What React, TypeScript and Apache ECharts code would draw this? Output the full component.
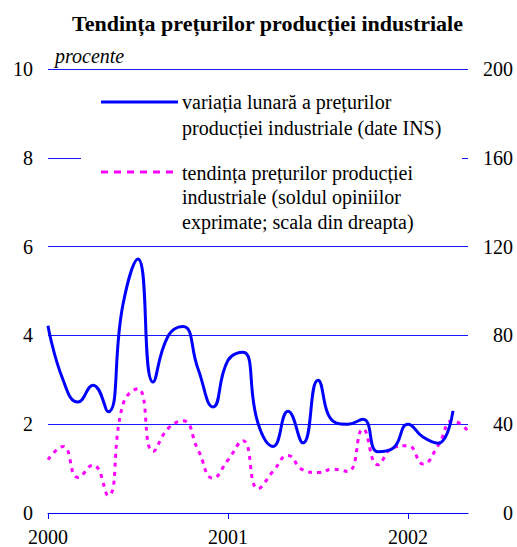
import React, { useEffect, useRef } from "react";
import * as echarts from "echarts";

const months: string[] = [
  "2000-01", "2000-02", "2000-03", "2000-04", "2000-05", "2000-06",
  "2000-07", "2000-08", "2000-09", "2000-10", "2000-11", "2000-12",
  "2001-01", "2001-02", "2001-03", "2001-04", "2001-05", "2001-06",
  "2001-07", "2001-08", "2001-09", "2001-10", "2001-11", "2001-12",
  "2002-01", "2002-02", "2002-03", "2002-04", "2002-05",
];

// variația lunară a prețurilor producției industriale (date INS), procente
const monthlyChange: number[] = [
  4.22, 3.0, 2.5, 2.88, 2.28, 4.7, 5.72, 2.95, 3.98, 4.2, 3.25, 2.39,
  3.44, 3.62, 2.02, 1.5, 2.29, 1.58, 2.99, 2.07, 2.0, 2.11, 1.38, 1.46,
  2.0, 1.71, 1.57, 2.3,
];

// tendința prețurilor producției industriale (soldul opiniilor exprimate)
const tendency: number[] = [
  24, 30, 16, 21.7, 7.9, 49, 56, 27.7, 38, 41.5, 28.5, 15.7,
  23.9, 32.6, 11, 18.7, 25.9, 19.4, 18.2, 19.7, 18.7, 37.8, 21.7, 29.5,
  30.3, 22.1, 30.3, 41.6, 37,
];

const title = "Tendința prețurilor producției industriale";
const unitLabel = "procente";
const legendBlue = ["variația lunară a prețurilor", "producției industriale (date INS)"];
const legendPink = [
  "tendința prețurilor producției",
  "industriale (soldul opiniilor",
  "exprimate; scala din dreapta)",
];

const FONT = "Liberation Serif";

export default function App() {
  const ref = useRef<HTMLDivElement>(null);
  useEffect(() => {
    if (!ref.current) return;
    const chart = echarts.init(ref.current, null, { renderer: "svg" });
    const legendText = (y: number, t: string) => ({
      type: "text",
      x: 182,
      y,
      z: 101,
      style: {
        text: t,
        fontFamily: FONT,
        fontSize: 20,
        fill: "#000",
        align: "left",
        verticalAlign: "middle",
      },
    });
    chart.setOption({
      animation: false,
      backgroundColor: "#fff",
      textStyle: { fontFamily: FONT },
      title: {
        text: title,
        left: 67,
        top: 7,
        textStyle: { fontFamily: FONT, fontSize: 22, fontWeight: "bold", color: "#000" },
      },
      grid: { left: 48, right: 49, top: 69, bottom: 32, containLabel: false },
      xAxis: {
        type: "category",
        data: months,
        boundaryGap: false,
        axisLine: { show: true, lineStyle: { color: "#0000ff", width: 1 } },
        axisTick: {
          show: true,
          length: 6,
          lineStyle: { color: "#0000ff" },
          interval: (index: number) => index % 12 === 0,
        },
        axisLabel: {
          interval: 0,
          margin: 14,
          fontSize: 20,
          fontFamily: FONT,
          color: "#000",
          formatter: (v: string) => (v.endsWith("-01") ? v.slice(0, 4) : ""),
        },
        splitLine: { show: false },
      },
      yAxis: [
        {
          type: "value",
          min: 0,
          max: 10,
          interval: 2,
          axisLine: { show: false },
          axisTick: { show: false },
          axisLabel: { margin: 15, fontSize: 20, fontFamily: FONT, color: "#000" },
          splitLine: { show: true, lineStyle: { color: "#1a1aff", width: 1 } },
        },
        {
          type: "value",
          min: 0,
          max: 200,
          interval: 40,
          position: "right",
          axisLine: { show: false },
          axisTick: { show: false },
          axisLabel: {
            margin: 45,
            align: "right",
            fontSize: 20,
            fontFamily: FONT,
            color: "#000",
          },
          splitLine: { show: false },
        },
      ],
      series: [
        {
          name: legendBlue.join(" "),
          type: "line",
          yAxisIndex: 0,
          data: monthlyChange,
          smooth: 0.5,
          showSymbol: false,
          symbol: "none",
          lineStyle: { color: "#0000ff", width: 3 },
          z: 3,
        },
        {
          name: legendPink.join(" "),
          type: "line",
          yAxisIndex: 1,
          data: tendency,
          smooth: 0.5,
          showSymbol: false,
          symbol: "none",
          lineStyle: { color: "#ff00ff", width: 3, type: [4, 5] },
          z: 2,
        },
      ],
      graphic: [
        {
          type: "text",
          x: 55,
          y: 56,
          style: {
            text: unitLabel,
            fontFamily: FONT,
            fontSize: 20,
            fontStyle: "italic",
            fill: "#000",
            align: "left",
            verticalAlign: "middle",
          },
        },
        {
          type: "rect",
          z: 100,
          shape: { x: 81, y: 82, width: 381, height: 154 },
          style: { fill: "#fff" },
        },
        {
          type: "line",
          z: 101,
          shape: { x1: 101, y1: 102, x2: 178, y2: 102 },
          style: { stroke: "#0000ff", lineWidth: 3 },
        },
        {
          type: "line",
          z: 101,
          shape: { x1: 101, y1: 172, x2: 178, y2: 172 },
          style: { stroke: "#ff00ff", lineWidth: 3, lineDash: [7, 6] },
        },
        legendText(102, legendBlue[0]),
        legendText(128, legendBlue[1]),
        legendText(173, legendPink[0]),
        legendText(197, legendPink[1]),
        legendText(222, legendPink[2]),
      ],
    });
    return () => chart.dispose();
  }, []);
  return (
    <div
      ref={ref}
      style={{ position: "fixed", left: 0, top: 0, width: 517, height: 547 }}
    />
  );
}
